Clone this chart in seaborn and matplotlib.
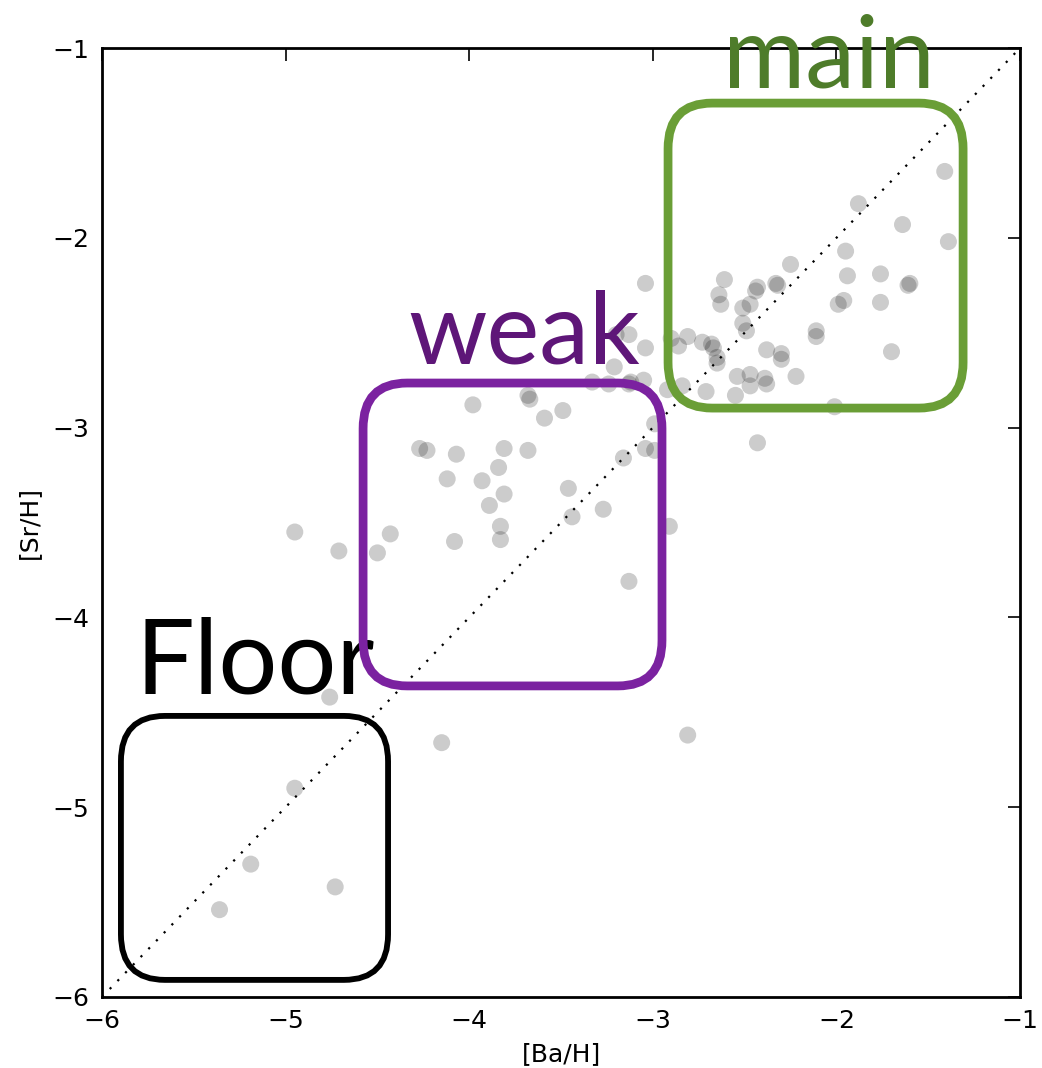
import numpy as np
import pandas as pd
import matplotlib
matplotlib.use("Agg")
import matplotlib.pyplot as plt
from matplotlib.patches import FancyBboxPatch
import seaborn as sns

# [Ba/H] and [Sr/H] abundances of the halo star sample
ba_h = [
    -1.41, -1.88, -1.64, -1.39, -1.95, -2.25, -1.94, -1.76, -1.61, -1.60,
    -2.61, -3.04, -2.43, -2.44, -2.33, -2.32, -2.64, -2.63, -2.47, -2.51,
    -1.96, -1.99, -1.76, -2.51, -2.49, -2.11, -2.11, -1.70, -2.38, -2.30,
    -2.30, -2.90, -2.86, -2.81, -2.73, -2.68, -2.67, -2.65, -2.65, -2.54,
    -2.47, -2.47, -2.39, -2.38, -2.22, -2.55, -2.71, -2.84, -2.92, -2.01,
    -2.43, -3.21, -3.24, -3.13, -3.05, -3.04, -3.20, -3.13, -3.33, -3.12,
    -3.68, -3.67, -3.98, -3.59, -3.49, -4.27, -4.23, -4.07, -3.81, -3.68,
    -3.16, -3.04, -2.99, -2.99, -4.12, -3.93, -3.84, -3.81, -3.89, -3.46,
    -3.27, -3.44, -3.83, -3.83, -4.08, -4.95, -4.71, -4.50, -4.43, -3.13,
    -2.91, -4.76, -4.15, -2.81, -4.95, -5.19, -4.73, -5.36,
]
sr_h = [
    -1.65, -1.82, -1.93, -2.02, -2.07, -2.14, -2.20, -2.19, -2.25, -2.24,
    -2.22, -2.24, -2.26, -2.28, -2.24, -2.25, -2.30, -2.35, -2.35, -2.37,
    -2.33, -2.35, -2.34, -2.45, -2.49, -2.49, -2.52, -2.60, -2.59, -2.61,
    -2.64, -2.53, -2.57, -2.52, -2.55, -2.56, -2.58, -2.63, -2.66, -2.73,
    -2.72, -2.78, -2.74, -2.77, -2.73, -2.83, -2.81, -2.78, -2.80, -2.89,
    -3.08, -2.68, -2.77, -2.77, -2.75, -2.58, -2.51, -2.51, -2.76, -2.76,
    -2.83, -2.85, -2.88, -2.95, -2.91, -3.11, -3.12, -3.14, -3.11, -3.12,
    -3.16, -3.11, -3.12, -2.98, -3.27, -3.28, -3.21, -3.35, -3.41, -3.32,
    -3.43, -3.47, -3.52, -3.59, -3.60, -3.55, -3.65, -3.66, -3.56, -3.81,
    -3.52, -4.42, -4.66, -4.62, -4.90, -5.30, -5.42, -5.54,
]

# Process regions: label, box extent, box colour, text colour, text anchor
region_names = ["main", "weak", "Floor"]
region_x = [(-2.917, -1.310), (-4.578, -2.950), (-5.897, -4.442)]
region_y = [(-2.897, -1.290), (-4.361, -2.765), (-5.910, -4.519)]
region_box_colors = ["#6a9e36", "#7b22a0", "#000000"]
region_text_colors = ["#4e7c2a", "#5e1678", "#000000"]
region_text_pos = [(-2.62, -1.21), (-4.33, -2.66), (-5.82, -4.40)]

ticks = [-6, -5, -4, -3, -2, -1]

df = pd.DataFrame({"Ba": ba_h, "Sr": sr_h})

sns.set_style("white")
plt.rcParams["font.family"] = ["DejaVu Sans"]

fig = plt.figure(figsize=(10.42, 10.68), dpi=100)
ax = fig.add_axes([0.0979, 0.0665, 0.8810, 0.8885])

sns.scatterplot(data=df, x="Ba", y="Sr", ax=ax, color="k", alpha=0.2,
                s=150, edgecolor="none", zorder=2)

# one-to-one line
ax.plot([-6, -1], [-6, -1], color="k", linestyle=(0, (1, 4)), lw=1.6, zorder=3)

for name, (x0, x1), (y0, y1), bc, tc, (tx, ty) in zip(
        region_names, region_x, region_y, region_box_colors,
        region_text_colors, region_text_pos):
    lw = 6.3 if name != "Floor" else 4.2
    box = FancyBboxPatch((x0, y0), x1 - x0, y1 - y0,
                         boxstyle="round,pad=0,rounding_size=0.24",
                         fill=False, edgecolor=bc, lw=lw, zorder=5,
                         clip_on=False)
    ax.add_patch(box)
    fs = 72 if name != "Floor" else 75
    ax.text(tx, ty, name, color=tc, fontsize=fs, family="Lato",
            ha="left", va="baseline", zorder=4 if name == "Floor" else 6,
            clip_on=False)

ax.set_xlim(-6, -1)
ax.set_ylim(-6, -1)
ax.set_xticks(ticks)
ax.set_yticks(ticks)
ax.set_xticklabels([f"\u2212{abs(t)}" for t in ticks])
ax.set_yticklabels([f"\u2212{abs(t)}" for t in ticks])
ax.tick_params(direction="in", length=9, width=1.2, labelsize=18,
               top=True, right=True, pad=9, colors="k")
ax.set_xlabel("[Ba/H]", fontsize=18, labelpad=6, color="k")
ax.set_ylabel("[Sr/H]", fontsize=18, labelpad=8, color="k")
for sp in ax.spines.values():
    sp.set_color("k")
    sp.set_linewidth(2)
    sp.set_zorder(3)

fig.savefig("out.png", dpi=100, facecolor="white")
